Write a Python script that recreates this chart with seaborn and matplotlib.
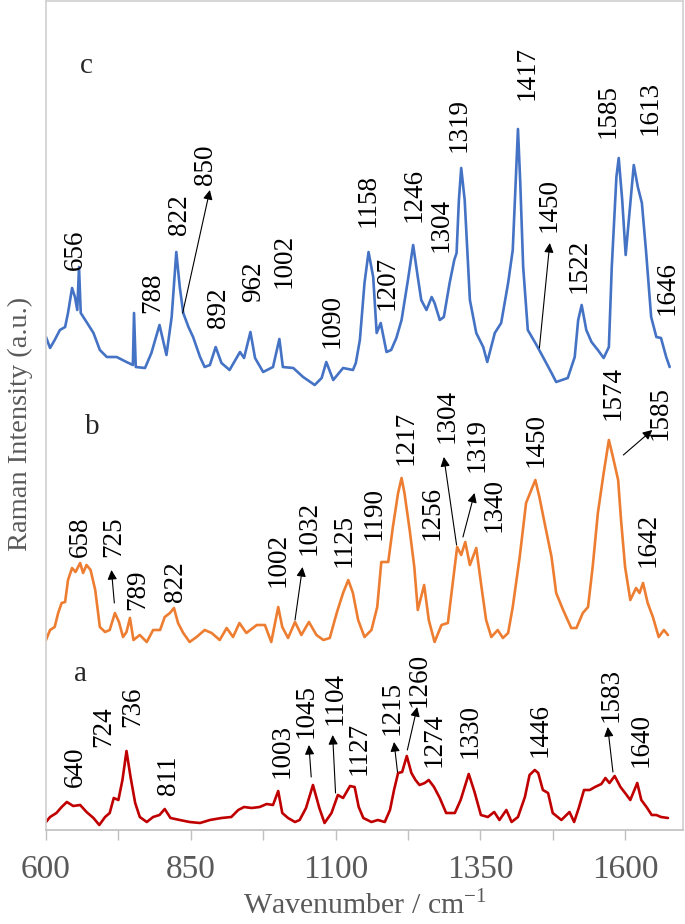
import matplotlib
matplotlib.use("Agg")
import matplotlib.pyplot as plt
import seaborn as sns
import pandas as pd

# ---- spectrum c (blue) ----
wn_c = [600, 607, 615, 624, 633, 638, 645, 650, 654, 657, 660, 670, 682, 693, 705, 722, 739, 750, 752, 755,
        771, 782, 796, 808, 817, 825, 831, 837, 846, 854, 866, 874, 883, 893, 903, 917, 935, 942, 953, 961,
        975, 992, 1003, 1009, 1027, 1044, 1064, 1076, 1084, 1096, 1113, 1130, 1135, 1142, 1150, 1157, 1165, 1171, 1178, 1188,
        1196, 1205, 1214, 1225, 1234, 1242, 1248, 1257, 1266, 1271, 1280, 1287, 1297, 1305, 1309, 1313, 1317, 1323, 1332, 1343,
        1355, 1362, 1375, 1386, 1398, 1406, 1411, 1415, 1419, 1424, 1432, 1447, 1461, 1473, 1481, 1501, 1513, 1519, 1525, 1533,
        1542, 1553, 1563, 1572, 1577, 1585, 1589, 1595, 1601, 1608, 1615, 1622, 1629, 1636, 1645, 1654, 1662, 1671, 1677]
int_c = [493, 482, 490, 500, 503, 517, 542, 533, 520, 563, 517, 508, 497, 480, 473, 473, 468, 465, 517, 463,
         462, 477, 505, 475, 513, 578, 543, 517, 503, 493, 473, 463, 465, 483, 467, 460, 478, 472, 498, 472,
         458, 463, 491, 463, 462, 453, 445, 452, 468, 450, 462, 460, 467, 490, 547, 578, 553, 497, 507, 478,
         480, 492, 510, 550, 585, 553, 530, 520, 533, 527, 510, 513, 547, 570, 577, 630, 662, 630, 530, 497,
         483, 468, 497, 507, 547, 580, 647, 701, 647, 563, 500, 485, 470, 457, 448, 452, 473, 510, 525, 500,
         488, 480, 472, 483, 563, 653, 672, 630, 575, 620, 665, 643, 627, 580, 513, 493, 492, 473, 463]

# ---- spectrum b (orange) ----
wn_b = [600, 607, 615, 621, 627, 633, 638, 645, 651, 659, 664, 670, 677, 685, 693, 702, 710, 719, 726, 733,
        739, 745, 751, 762, 774, 785, 797, 805, 814, 821, 828, 837, 848, 860, 874, 886, 900, 912, 923, 934,
        946, 964, 978, 989, 1001, 1008, 1018, 1030, 1041, 1054, 1067, 1079, 1090, 1102, 1113, 1122, 1130, 1139, 1150, 1162,
        1172, 1179, 1191, 1199, 1208, 1214, 1219, 1228, 1236, 1242, 1253, 1261, 1271, 1283, 1294, 1303, 1310, 1317, 1324, 1332,
        1343, 1352, 1360, 1369, 1380, 1389, 1398, 1406, 1418, 1429, 1438, 1445, 1452, 1461, 1473, 1481, 1493, 1507, 1516, 1527,
        1536, 1544, 1553, 1563, 1572, 1579, 1588, 1593, 1600, 1609, 1619, 1625, 1631, 1639, 1648, 1658, 1667, 1674]
int_b = [190, 200, 203, 217, 227, 228, 250, 262, 258, 267, 257, 265, 260, 240, 203, 198, 200, 217, 208, 193,
         198, 212, 190, 195, 188, 200, 200, 213, 217, 222, 207, 197, 188, 193, 200, 197, 190, 202, 193, 207,
         197, 205, 205, 188, 223, 203, 192, 208, 195, 208, 195, 190, 192, 217, 237, 250, 237, 210, 193, 200,
         223, 268, 268, 303, 337, 352, 337, 300, 263, 220, 245, 210, 188, 205, 207, 250, 283, 275, 288, 265,
         282, 243, 210, 193, 200, 192, 197, 223, 273, 327, 340, 350, 333, 307, 273, 237, 220, 202, 202, 217,
         223, 263, 317, 357, 390, 373, 350, 310, 263, 230, 242, 237, 247, 227, 213, 193, 200, 195]

# ---- spectrum a (red) ----
wn_a = [600, 607, 618, 627, 636, 647, 659, 670, 682, 692, 702, 710, 717, 725, 732, 739, 746, 754, 762, 774,
        785, 796, 805, 815, 831, 848, 866, 883, 903, 920, 932, 942, 955, 969, 981, 992, 1001, 1008, 1018, 1030,
        1038, 1049, 1061, 1072, 1081, 1093, 1104, 1113, 1125, 1133, 1140, 1148, 1162, 1173, 1185, 1194, 1201, 1208, 1215, 1223,
        1231, 1238, 1245, 1254, 1261, 1270, 1280, 1291, 1306, 1316, 1330, 1340, 1351, 1363, 1374, 1383, 1395, 1404, 1415, 1427,
        1435, 1444, 1450, 1458, 1467, 1475, 1490, 1504, 1512, 1520, 1529, 1539, 1548, 1559, 1566, 1573, 1582, 1592, 1600, 1609,
        1621, 1628, 1637, 1646, 1654, 1662, 1674]
int_a = [8, 13, 17, 23, 28, 24, 25, 18, 12, 5, 13, 17, 32, 30, 50, 79, 53, 27, 13, 8,
         13, 15, 21, 12, 10, 8, 7, 10, 12, 13, 20, 23, 22, 23, 26, 25, 39, 17, 12, 8,
         10, 22, 45, 22, 7, 17, 35, 32, 44, 43, 23, 12, 8, 10, 8, 20, 40, 57, 58, 74,
         57, 50, 45, 47, 50, 43, 32, 17, 17, 30, 56, 38, 15, 13, 18, 10, 20, 8, 13, 33,
         55, 60, 57, 40, 37, 17, 10, 18, 8, 22, 40, 40, 43, 46, 52, 47, 54, 43, 37, 30,
         47, 30, 23, 15, 15, 13, 12]

# peak labels
peaks_c = ["656", "788", "822", "850", "892", "962", "1002", "1090", "1158", "1207",
           "1246", "1304", "1319", "1417", "1450", "1522", "1585", "1613", "1646"]
peaks_b = ["658", "725", "789", "822", "1002", "1032", "1125", "1190", "1217", "1256",
           "1304", "1319", "1340", "1450", "1574", "1585", "1642"]
peaks_a = ["640", "724", "736", "811", "1003", "1045", "1104", "1127", "1215", "1260",
           "1274", "1330", "1446", "1583", "1640"]

# x ticks
major_ticks = [600, 850, 1100, 1350, 1600]
minor_ticks = [725, 975, 1225, 1475]

# label placement (bottom of rotated text)
pos_c = [(651, 560), (784, 517), (830, 595), (875, 645), (898, 502), (959, 528), (1012, 542),
         (1094, 482), (1157, 603), (1189, 520), (1235, 608), (1283, 578), (1313, 678), (1430, 730),
         (1468, 598), (1521, 537), (1571, 692), (1644, 695), (1672, 515)]
pos_b = [(659, 273), (717, 273), (759, 220), (824, 228), (1000, 243), (1054, 275), (1115, 263),
         (1166, 290), (1221, 365), (1266, 290), (1293, 387), (1344, 358), (1373, 298), (1447, 363),
         (1580, 410), (1661, 390), (1640, 263)]
pos_a = [(650, 43), (700, 83), (750, 103), (812, 35), (1008, 52), (1050, 92), (1099, 105),
         (1140, 55), (1197, 95), (1244, 123), (1270, 63), (1333, 72), (1454, 73), (1575, 108), (1627, 63)]

# arrows: (tip, tail)
arrows = [((883, 640), (836, 517)), ((1470, 587), (1452, 482)),
          ((713, 260), (718, 227)), ((1043, 263), (1030, 210)), ((1287, 373), (1309, 285)),
          ((1340, 337), (1320, 293)), ((1647, 400), (1597, 375)),
          ((1054, 85), (1058, 53)), ((1095, 95), (1100, 37)), ((1201, 88), (1207, 58)),
          ((1241, 123), (1224, 80)), ((1570, 103), (1579, 58))]

sns.set_style("white")
plt.rcParams["font.family"] = ["Liberation Serif", "DejaVu Serif"]
plt.rcParams["mathtext.fontset"] = "custom"
plt.rcParams["mathtext.rm"] = "Liberation Serif"

fig = plt.figure(figsize=(6.85, 9.24), dpi=100)
ax = fig.add_axes([46 / 685, 94 / 924, 637 / 685, 829 / 924])

df_c = pd.DataFrame({"wn": wn_c, "I": int_c})
df_b = pd.DataFrame({"wn": wn_b, "I": int_b})
df_a = pd.DataFrame({"wn": wn_a, "I": int_a})
sns.lineplot(data=df_c, x="wn", y="I", color="#4472C4", lw=1.9, estimator=None, ax=ax)
sns.lineplot(data=df_b, x="wn", y="I", color="#ED7D31", lw=1.9, estimator=None, ax=ax)
sns.lineplot(data=df_a, x="wn", y="I", color="#C00000", lw=1.9, estimator=None, ax=ax)

for labels, pos in [(peaks_c, pos_c), (peaks_b, pos_b), (peaks_a, pos_a)]:
    for s, (x, y) in zip(labels, pos):
        ax.text(x, y, s, rotation=90, ha="center", va="bottom", fontsize=19.5, color="black")

for tip, tail in arrows:
    ax.annotate("", xy=tip, xytext=tail,
                arrowprops=dict(arrowstyle="-|>", color="black", lw=0.8,
                                mutation_scale=14, shrinkA=0, shrinkB=0))

ax.text(670, 764, "c", ha="center", va="center", fontsize=21)
ax.text(680, 403, "b", ha="center", va="center", fontsize=21)
ax.text(659, 156, "a", ha="center", va="center", fontsize=21)

ax.set_xlim(600, 1700)
ax.set_ylim(0, 829)
ax.set_xticks(major_ticks)
ax.set_xticks(minor_ticks, minor=True)
ax.set_yticks([])
ax.tick_params(axis="x", which="both", direction="out", length=7.5, width=1,
               color="#BFBFBF", bottom=True)
ax.tick_params(axis="x", which="major", labelsize=24, labelcolor="#595959", pad=10)
for sp in ax.spines.values():
    sp.set_color("#D0D0D0")
    sp.set_linewidth(1.2)
ax.spines["bottom"].set_color("#BFBFBF")

ax.set_xlabel(r"Wavenumber / cm$^{\mathregular{-1}}$", fontsize=21.5, color="#595959")
ax.set_ylabel("Raman Intensity (a.u.)", fontsize=20.5, color="#595959")
ax.xaxis.set_label_coords(0.5, -0.072)
ax.yaxis.set_label_coords(-0.02, 0.49)

fig.savefig("out.png", dpi=100)
